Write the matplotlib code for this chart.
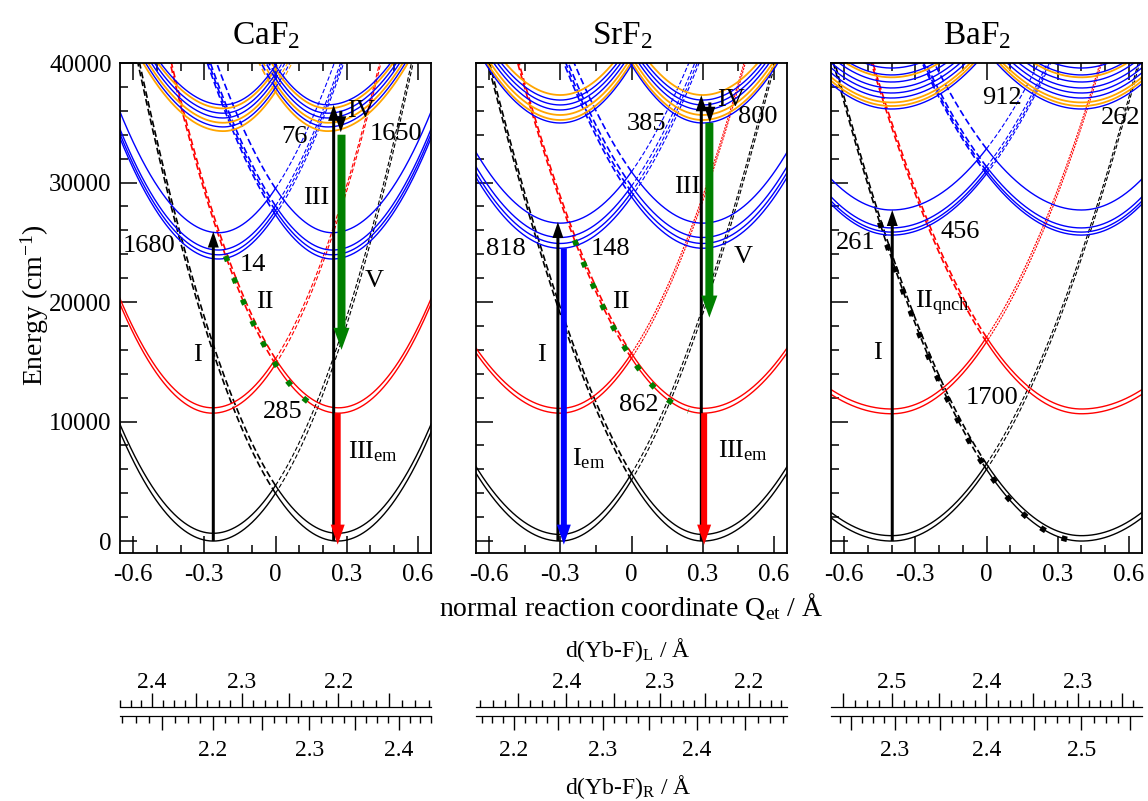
import numpy as np
import matplotlib
matplotlib.use("Agg")
import matplotlib.pyplot as plt
from matplotlib.ticker import MultipleLocator, FuncFormatter

plt.rcParams["font.family"] = ["Liberation Serif", "DejaVu Serif"]
plt.rcParams["mathtext.fontset"] = "custom"
plt.rcParams["mathtext.rm"] = "Liberation Serif"
plt.rcParams["mathtext.it"] = "Liberation Serif:italic"
plt.rcParams["axes.unicode_minus"] = False

# ---------------- data ----------------
names = ["CaF$_2$", "SrF$_2$", "BaF$_2$"]
minor_x = [0.1, 0.15, 0.1]

# ground state (black), pairs of levels
gs_q0 = [0.262, 0.30, 0.40]
gs_e0 = [[0, 650], [0, 550], [0, 450]]
gs_kin = [59000, 60500, 38000]
gs_cub = [3000, 12900, 1300]
gs_kout = [59000, 45000, 30000]

# Yb3+ 2F5/2 (red)
red_q0 = [0.265, 0.30, 0.40]
red_e0 = [[10700, 11150], [10700, 11100], [10650, 11050]]
red_kin = [58300, 52900, 37500]
red_cub = [0, 6000, 0]
red_kout = [60000, 40000, 25000]

# lower Yb2+ states (blue)
blue_q0 = [0.24, 0.30, 0.40]
blue_e0 = [[23600, 23950, 24350, 25800], [24500, 24900, 25400, 26600],
           [25600, 25850, 26200, 27700]]
blue_kin = [68600, 50400, 32000]
blue_cub = [18300, 8700, 0]
blue_kout = [58700, 47000, 40000]

# upper cluster (blue + orange)
cl_q0 = [0.22, 0.30, 0.40]
cl_blue_e0 = [[34650, 35400, 35800, 36500], [34980, 36070, 36490, 36900],
              [36150, 37070, 37490, 37910, 38410, 39000, 39580]]
cl_orange_e0 = [[34300, 35000, 36200], [35230, 35650, 37320], [36400, 36700, 38800]]
cl_kin = [68000, 54000, 30000]
cl_kout = [50000, 50000, 32500]

# dotted relaxation paths (green / black squares)
path_q_start = [-0.21, -0.24, -0.45]
path_q_end = [0.165, 0.24, 0.35]
path_color = ["green", "green", "black"]

# vertical arrows: panel, Q, start E, end E, colour, kind
arr_panel = [0, 0, 0, 0, 0, 1, 1, 1, 1, 1, 1, 2]
arr_q = [-0.262, 0.245, 0.278, 0.275, 0.262, -0.31, -0.285, 0.294, 0.328, 0.33, 0.306, -0.397]
arr_from = [0, 0, 34000, 36000, 10700, 0, 24500, 0, 35000, 36700, 10700, 0]
arr_to = [25900, 36500, 16000, 34200, -300, 26700, -300, 37300, 18700, 35000, -300, 27700]
arr_color = ["black", "black", "green", "black", "red", "black", "blue", "black",
             "green", "black", "red", "black"]
arr_kind = ["thin", "thin", "wide", "thin", "mid", "thin", "mid", "thin", "wide", "thin", "mid", "thin"]

# text labels inside panels
lab_panel = [0] * 10 + [1] * 10 + [2] * 6
lab_text = ["1680", "14", "II", "I", "285", "76", "III", "IV", "1650", "V",
            "818", "148", "II", "I", "862", "III", "IV", "385", "800", "V",
            "261", "456", "912", "262", "I", "1700"]
lab_q = [-0.532, -0.097, -0.046, -0.33, 0.03, 0.08, 0.17, 0.36, 0.507, 0.415,
         -0.53, -0.087, -0.045, -0.38, 0.03, 0.235, 0.42, 0.065, 0.53, 0.47,
         -0.55, -0.11, 0.065, 0.565, -0.46, 0.025]
lab_e = [24700, 23100, 20000, 15560, 10800, 33800, 28700, 36000, 34100, 21800,
         24400, 24400, 20000, 15560, 11400, 29600, 36900, 34900, 35500, 23800,
         24900, 25900, 37100, 35400, 15700, 12000]

# labels with subscripts (left aligned, baseline)
sub_panel = [0, 1, 1, 2]
sub_text = ["III$_{\\mathrm{em}}$", "I$_{\\mathrm{em}}$", "III$_{\\mathrm{em}}$", "II$_{\\mathrm{qnch}}$"]
sub_q = [0.304, -0.25, 0.365, -0.30]
sub_e = [6950, 6360, 7030, 19500]

# secondary distance axes: Q position of d_R values (d_L is mirrored)
dR_vals = [[2.2, 2.3, 2.4], [2.2, 2.3, 2.4], [2.3, 2.4, 2.5]]
dR_q = [[-0.264, 0.143, 0.52], [-0.495, -0.12, 0.275], [-0.385, 0.0, 0.40]]

# ---------------- layout ----------------
W, H = 1148, 801
panel_left = [120, 476, 831]
panel_w = 311
QLIM = 0.655


def pes(q, qc, e0, kin, cub, kout):
    u = np.sign(qc) * (q - qc)
    return e0 + np.where(u >= 0, kout * u ** 2, kin * u ** 2 + cub * u ** 3)


def draw_family(ax, q0, e0s, kin, cub, kout, color, lw=1.0, thin_ls=(0, (4, 2))):
    for sgn in (-1, 1):
        qc = sgn * q0
        q_own = np.linspace(0, sgn * QLIM * 1.02, 300)
        q_other = np.linspace(0, -sgn * QLIM * 1.02, 300)
        for e0 in e0s:
            ax.plot(q_own, pes(q_own, qc, e0, kin, cub, kout), color=color, lw=lw, zorder=2)
            if sgn > 0:
                ax.plot(q_other, pes(q_other, qc, e0, kin, cub, kout), color=color,
                        lw=1.2, ls=(0, (4, 2)), zorder=2)
            else:
                ax.plot(q_other, pes(q_other, qc, e0, kin, cub, kout), color=color,
                        lw=0.8, ls=thin_ls, zorder=2)


arrow_size = {"thin": (3, 11, 16), "wide": (8, 16, 22), "mid": (6, 14, 20)}

fig = plt.figure(figsize=(W / 100, H / 100), dpi=100)
axes = []
for i in range(3):
    ax = fig.add_axes([panel_left[i] / W, 1 - 553 / H, panel_w / W, 490 / H])
    axes.append(ax)
    ax.set_xlim(-QLIM, QLIM)
    ax.set_ylim(-1000, 40000)

    draw_family(ax, gs_q0[i], gs_e0[i], gs_kin[i], gs_cub[i], gs_kout[i], "black")
    draw_family(ax, red_q0[i], red_e0[i], red_kin[i], red_cub[i], red_kout[i], "red",
                thin_ls=(0, (4, 2)) if i == 0 else (0, (2, 1)))
    draw_family(ax, blue_q0[i], blue_e0[i], blue_kin[i], blue_cub[i], blue_kout[i], "blue")
    draw_family(ax, cl_q0[i], cl_orange_e0[i], cl_kin[i], 0, cl_kout[i], "orange", lw=1.3)
    draw_family(ax, cl_q0[i], cl_blue_e0[i], cl_kin[i], 0, cl_kout[i], "blue")

    # relaxation path
    qp = np.linspace(path_q_start[i], path_q_end[i], 100)
    if i < 2:
        ep = pes(qp, red_q0[i], red_e0[i][0], red_kin[i], red_cub[i], red_kout[i])
    else:
        ep = pes(qp, gs_q0[i], gs_e0[i][0], gs_kin[i], gs_cub[i], gs_kout[i])
    ax.plot(qp, ep, color=path_color[i], lw=4, ls=(0, (1, 3.2)),
            dash_capstyle="butt", zorder=3)

    ax.text(0.5 - 9 / panel_w, 1 + 12 / 490, names[i], transform=ax.transAxes,
            fontsize=24, ha="center", va="bottom")

    ax.xaxis.set_major_locator(MultipleLocator(0.3))
    ax.xaxis.set_minor_locator(MultipleLocator(minor_x[i]))
    ax.yaxis.set_major_locator(MultipleLocator(10000))
    ax.yaxis.set_minor_locator(MultipleLocator(2000))
    ax.xaxis.set_major_formatter(FuncFormatter(lambda v, p: "0" if abs(v) < 1e-9 else f"{v:.1f}"))
    ax.yaxis.set_major_formatter(FuncFormatter(lambda v, p: f"{int(round(v))}"))
    ax.tick_params(which="major", direction="in", length=12, width=1.1,
                   top=True, right=False, labelsize=18)
    ax.tick_params(which="minor", direction="in", length=6, width=1.1,
                   top=True, right=False)
    ax.tick_params(axis="x", pad=8)
    ax.tick_params(axis="y", pad=6, labelleft=(i == 0))
    for s in ax.spines.values():
        s.set_linewidth(1.3)

for k in range(len(arr_q)):
    ax = axes[arr_panel[k]]
    wpx, hwpx, hlpx = arrow_size[arr_kind[k]]
    qscale = 2 * QLIM / panel_w          # Q per px
    escale = 41000 / 490                 # E per px
    ax.arrow(arr_q[k], arr_from[k], 0, arr_to[k] - arr_from[k],
             width=wpx * qscale, head_width=hwpx * qscale, head_length=hlpx * escale,
             length_includes_head=True, color=arr_color[k], lw=0, zorder=5)

for k in range(len(lab_text)):
    axes[lab_panel[k]].text(lab_q[k], lab_e[k], lab_text[k], fontsize=19,
                            ha="center", va="center", zorder=6)
for k in range(len(sub_text)):
    axes[sub_panel[k]].text(sub_q[k], sub_e[k], sub_text[k], fontsize=19,
                            ha="left", va="baseline", zorder=6)

# distance axes
for i in range(3):
    axd = fig.add_axes([panel_left[i] / W, 1 - 716 / H, panel_w / W, 9 / H])
    axd.set_xlim(-QLIM, QLIM)
    axd.set_ylim(0, 1)
    axd.set_yticks([])
    axd.patch.set_alpha(0)
    for s in ("left", "right"):
        axd.spines[s].set_visible(False)
    coef = np.polyfit(dR_vals[i], dR_q[i], 2)
    d_all = np.round(np.arange(dR_vals[i][0] - 0.3, dR_vals[i][2] + 0.3, 0.0125), 4)
    q_all = np.polyval(coef, d_all)
    major = np.isclose((d_all / 0.05) - np.round(d_all / 0.05), 0, atol=1e-6)
    labeled = np.isclose((d_all / 0.1) - np.round(d_all / 0.1), 0, atol=1e-6)
    inside = np.abs(q_all) <= QLIM
    maj_q = q_all[major & inside]
    maj_lab = [f"{d:.1f}" if l else "" for d, l in zip(d_all[major & inside], labeled[major & inside])]
    min_q = q_all[~major & inside]

    axd.set_xticks(maj_q)
    axd.set_xticklabels(maj_lab)
    axd.set_xticks(min_q, minor=True)
    axd.tick_params(axis="x", which="major", direction="out", length=10, width=1,
                    labelsize=17, pad=7, top=False, bottom=True)
    axd.tick_params(axis="x", which="minor", direction="out", length=5, width=1,
                    top=False, bottom=True)

    axt = axd.twiny()
    axt.set_xlim(-QLIM, QLIM)
    for s in ("left", "right"):
        axt.spines[s].set_visible(False)
    axt.set_xticks(-maj_q)
    axt.set_xticklabels(maj_lab)
    axt.set_xticks(-min_q, minor=True)
    axt.tick_params(axis="x", which="major", direction="out", length=10, width=1,
                    labelsize=17, pad=0)
    axt.tick_params(axis="x", which="minor", direction="out", length=5, width=1)

fig.text(35 / W, 1 - 305 / H, "Energy (cm$^{-1}$)", rotation=90, fontsize=20,
         ha="center", va="center")
fig.text(631 / W, 1 - 607 / H, "normal reaction coordinate Q$_{\\mathrm{et}}$ / Å",
         fontsize=20, ha="center", va="center")
fig.text(628 / W, 1 - 650 / H, "d(Yb-F)$_{\\mathrm{L}}$ / Å", fontsize=17,
         ha="center", va="center")
fig.text(628 / W, 1 - 787 / H, "d(Yb-F)$_{\\mathrm{R}}$ / Å", fontsize=17,
         ha="center", va="center")

fig.savefig("out.png", dpi=100)
